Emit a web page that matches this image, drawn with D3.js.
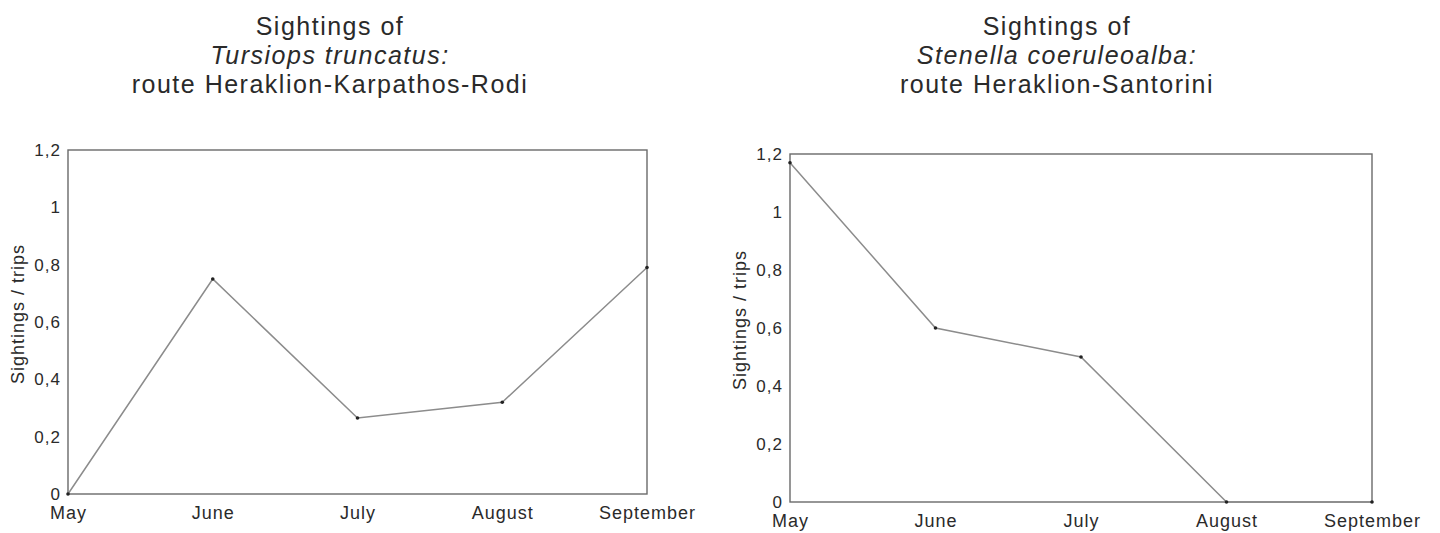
<!DOCTYPE html>
<html>
<head>
<meta charset="utf-8">
<script src="https://cdn.jsdelivr.net/npm/d3@7"></script>
<style>
  html, body { margin: 0; padding: 0; background: #fff; }
  svg text { font-family: "Liberation Sans", Arial, Helvetica, sans-serif; fill: #2a2a2a; }
</style>
</head>
<body>
<svg id="chart" width="1440" height="533"></svg>
<script>
// ---- data ----
const months = ["May", "June", "July", "August", "September"];
const tursiopsValues = [0, 0.75, 0.265, 0.32, 0.79];
const stenellaValues = [1.17, 0.6, 0.5, 0, 0];
const yTicks = [0, 0.2, 0.4, 0.6, 0.8, 1, 1.2];
const yTickLabels = ["0", "0,2", "0,4", "0,6", "0,8", "1", "1,2"];
const titleLinesLeft = ["Sightings of", "Tursiops truncatus:", "route Heraklion-Karpathos-Rodi"];
const titleLinesRight = ["Sightings of", "Stenella coeruleoalba:", "route Heraklion-Santorini"];
const yAxisTitle = "Sightings / trips";

const svg = d3.select("#chart");

function panel(opts) {
  const { values, title, left, right, top, bottom, titleX } = opts;
  const g = svg.append("g");
  const x = d3.scalePoint().domain(months).range([left, right]).padding(0);
  const y = d3.scaleLinear().domain([0, 1.2]).range([bottom, top]);

  // frame
  g.append("rect")
    .attr("x", left).attr("y", y(1.2))
    .attr("width", right - left).attr("height", y(0) - y(1.2))
    .attr("fill", "none").attr("stroke", "#6a6a6a").attr("stroke-width", 1.4);

  // y axis
  const ya = d3.axisLeft(y).tickValues(yTicks)
    .tickFormat((d, i) => yTickLabels[i]).tickSize(0).tickPadding(7);
  const yg = g.append("g").attr("transform", `translate(${left},0)`).call(ya);
  yg.select(".domain").remove();
  yg.selectAll("text").style("font-size", "17px").style("letter-spacing", "1px").attr("fill", "#2a2a2a");

  // x axis
  const xa = d3.axisBottom(x).tickSize(0).tickPadding(0);
  const xg = g.append("g").attr("transform", `translate(0,${bottom})`).call(xa);
  xg.select(".domain").remove();
  xg.selectAll("text").attr("dy", null).attr("y", 25).style("font-size", "18px")
    .style("letter-spacing", "1px").attr("fill", "#2a2a2a");

  // line
  const line = d3.line().x((d, i) => x(months[i])).y(d => y(d));
  g.append("path").datum(values)
    .attr("d", line).attr("fill", "none")
    .attr("stroke", "#8c8c8c").attr("stroke-width", 1.5);

  g.selectAll("circle.pt").data(values).enter().append("circle")
    .attr("class", "pt")
    .attr("cx", (d, i) => x(months[i])).attr("cy", d => y(d))
    .attr("r", 1.8).attr("fill", "#222");

  // y axis title
  g.append("text")
    .attr("transform", `translate(${left - 50},${(top + bottom) / 2 - 8}) rotate(-90)`)
    .attr("text-anchor", "middle").attr("dy", "0.35em")
    .style("font-size", "18px").style("letter-spacing", "1px")
    .text(yAxisTitle);

  // title
  const tg = g.append("text").attr("text-anchor", "middle")
    .style("font-size", "25px").style("letter-spacing", "1.5px");
  title.forEach((t, i) => {
    tg.append("tspan").attr("x", titleX).attr("y", 35 + i * 29)
      .style("font-style", i === 1 ? "italic" : "normal")
      .text(t);
  });
}

panel({ values: tursiopsValues, title: titleLinesLeft, left: 68, right: 647, top: 150, bottom: 494, titleX: 330 });
panel({ values: stenellaValues, title: titleLinesRight, left: 790, right: 1372, top: 154, bottom: 502, titleX: 1057 });
</script>
</body>
</html>
